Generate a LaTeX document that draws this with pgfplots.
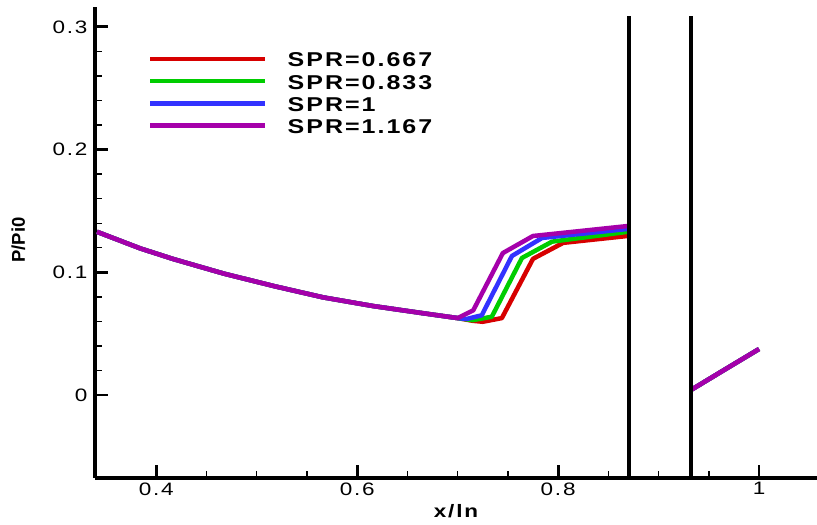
\documentclass[border=0pt]{standalone}
\usepackage{fontspec}
\setmainfont{Liberation Sans}[FakeStretch=1.25, LetterSpace=10]
\newfontfamily\ylabfont{Liberation Sans}
\usepackage{pgfplots}
\pgfplotsset{compat=1.18}
\definecolor{cred}{RGB}{215,0,0}
\definecolor{cgreen}{RGB}{0,205,0}
\definecolor{cblue}{RGB}{50,50,255}
\definecolor{cpurple}{RGB}{165,0,170}
\begin{document}
\begin{tikzpicture}
\useasboundingbox (-95pt,-47pt) rectangle (722pt,478pt);
\begin{axis}[
  scale only axis, width=722pt, height=471pt,
  xmin=0.339, xmax=1.0577, ymin=-0.0676, ymax=0.3162,
  axis x line*=bottom, axis y line*=left,
  axis line style={line width=3.5pt, black},
  xtick={0.4,0.6,0.8,1}, ytick={0,0.1,0.2,0.3},
  minor x tick num=3, minor y tick num=4,
  tick align=inside,
  major tick length=13pt, minor tick length=7pt,
  major tick style={line width=2.8pt, black},
  minor tick style={line width=1.4pt, black},
  /pgf/number format/assume math mode=true,
  ticklabel style={font=\fontsize{18}{20}\selectfont},
  yticklabel style={xshift=-4pt},
  xticklabel style={yshift=-1pt},
  xlabel={\fontsize{18}{20}\selectfont\bfseries x/ln},
  xlabel style={at={(axis description cs:0.5,0)}, anchor=base, yshift=-39pt},
  ylabel={\ylabfont\fontsize{18.5}{20}\selectfont\bfseries P/Pi0},
  ylabel style={at={(axis description cs:-0.106,0.505)}, anchor=center},
  legend style={draw=none, fill=none, inner sep=0pt, at={(axis description cs:0.0734,0.903)}, anchor=north west,
    font=\bfseries\fontsize{20}{22}\selectfont, column sep=20pt, row sep=8.2pt,
    nodes={inner sep=0pt, text height=14pt, text depth=0pt}},
  legend cell align=left,
  legend image code/.code={\draw[#1, line width=4.5pt] (0pt,1pt) -- (115pt,1pt);},
  every axis plot/.append style={line width=4.5pt, line join=round},
]
\addplot[cred] coordinates {(0.341,0.133) (0.384,0.1195) (0.417,0.1108) (0.467,0.099) (0.517,0.0888) (0.566,0.0796) (0.616,0.0725) (0.666,0.0666) (0.700,0.0627)
 (0.715,0.0605) (0.725,0.0597) (0.744,0.0627) (0.775,0.111) (0.805,0.124) (0.869,0.1296)};
\addlegendentry{SPR=0.667}
\addplot[cgreen] coordinates {(0.341,0.133) (0.384,0.1195) (0.417,0.1108) (0.467,0.099) (0.517,0.0888) (0.566,0.0796) (0.616,0.0725) (0.666,0.0666) (0.700,0.0627)
 (0.715,0.061) (0.734,0.0638) (0.764,0.1117) (0.794,0.125) (0.869,0.133)};
\addlegendentry{SPR=0.833}
\addplot[cblue] coordinates {(0.341,0.133) (0.384,0.1195) (0.417,0.1108) (0.467,0.099) (0.517,0.0888) (0.566,0.0796) (0.616,0.0725) (0.666,0.0666) (0.700,0.0627)
 (0.709,0.062) (0.724,0.065) (0.754,0.1133) (0.784,0.128) (0.869,0.1353)};
\addlegendentry{SPR=1}
\addplot[cpurple] coordinates {(0.341,0.133) (0.384,0.1195) (0.417,0.1108) (0.467,0.099) (0.517,0.0888) (0.566,0.0796) (0.616,0.0725) (0.666,0.0666) (0.700,0.0627)
 (0.7155,0.069) (0.745,0.1157) (0.775,0.1296) (0.869,0.1377)};
\addlegendentry{SPR=1.167}
\addplot[cred, forget plot] coordinates {(0.932,0.004) (0.966,0.0208) (1.0,0.0375)};
\addplot[cgreen, forget plot] coordinates {(0.932,0.004) (0.966,0.0208) (1.0,0.0375)};
\addplot[cblue, forget plot] coordinates {(0.932,0.004) (0.966,0.0208) (1.0,0.0375)};
\addplot[cpurple, forget plot] coordinates {(0.932,0.004) (0.966,0.0208) (1.0,0.0375)};
\addplot[black, line width=3.5pt, forget plot] coordinates {(0.8706,-0.0676) (0.8706,0.309)};
\addplot[black, line width=3.5pt, forget plot] coordinates {(0.9323,-0.0676) (0.9323,0.309)};
\end{axis}
\end{tikzpicture}
\end{document}
